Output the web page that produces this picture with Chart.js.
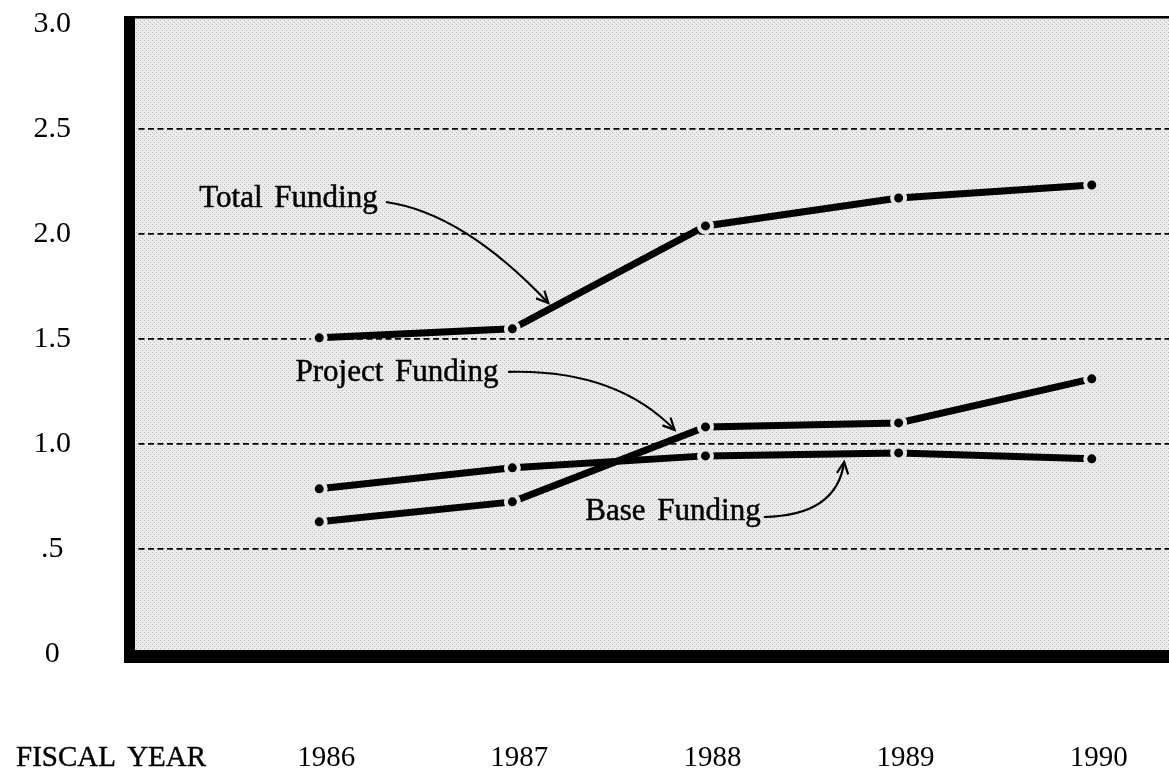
<!DOCTYPE html>
<html>
<head>
<meta charset="utf-8">
<script src="https://cdn.jsdelivr.net/npm/chart.js@4.4.1/dist/chart.umd.min.js"></script>
<style>
  html, body { margin: 0; padding: 0; background: #fff; overflow: hidden; }
  #wrap { width: 1169px; height: 770px; }
  canvas { display: block; }
</style>
</head>
<body>
<div id="wrap"><canvas id="myChart" width="1169" height="770"></canvas></div>
<script>
// data
const years = [1986, 1987, 1988, 1989, 1990];
const totalFunding = [1.505, 1.548, 2.038, 2.171, 2.233];
const projectFunding = [0.629, 0.724, 1.081, 1.10, 1.31];
const baseFunding = [0.786, 0.886, 0.943, 0.957, 0.929];

const yTicks = [0, 0.5, 1, 1.5, 2, 2.5, 3];
const yTickLabels = ['0', '.5', '1.0', '1.5', '2.0', '2.5', '3.0'];
const xTitle = 'FISCAL YEAR';

// series labels + curved arrows, in data units (x = year, y = funding)
const notes = [
  { text: 'Total Funding', x: 1985.379, y: 2.129,
    curve: [[1986.345, 2.152], [1986.745, 2.10], [1987.186, 1.671]] },
  { text: 'Project Funding', x: 1985.877, y: 1.30,
    curve: [[1986.978, 1.343], [1987.534, 1.357], [1987.840, 1.067]] },
  { text: 'Base Funding', x: 1987.378, y: 0.638,
    curve: [[1988.302, 0.652], [1988.68, 0.657], [1988.718, 0.914]] }
];

const SERIF = '"Liberation Serif", "Times New Roman", serif';
const BG = '#e4e4e4';

// stipple fill like the printed screen
const tile = document.createElement('canvas');
tile.width = 4; tile.height = 4;
const tctx = tile.getContext('2d');
tctx.fillStyle = '#ececec';
tctx.fillRect(0, 0, 4, 4);
tctx.fillStyle = '#b8b8b8';
tctx.fillRect(0, 0, 1, 1);
tctx.fillRect(2, 2, 1, 1);

const frame = {
  id: 'frame',
  beforeDraw(chart) {
    const { ctx, chartArea: a } = chart;
    ctx.save();
    ctx.fillStyle = ctx.createPattern(tile, 'repeat');
    ctx.fillRect(a.left, a.top, a.right - a.left, a.bottom - a.top);
    ctx.restore();
  },
  afterDatasetsDraw(chart) {
    const { ctx, chartArea: a, scales } = chart;
    const xs = scales.x, ys = scales.y;
    ctx.save();
    ctx.fillStyle = '#000';
    // thick left and bottom, thin top
    ctx.fillRect(a.left - 5, a.top - 1, 11, a.bottom - a.top + 8);
    ctx.fillRect(a.left - 5, a.bottom - 6, a.right - a.left + 5, 13);
    ctx.fillRect(a.left - 5, a.top - 1, a.right - a.left + 5, 2.5);

    // notes
    ctx.font = '31px ' + SERIF;
    ctx.textBaseline = 'alphabetic';
    ctx.textAlign = 'left';
    if ('wordSpacing' in ctx) ctx.wordSpacing = '4px';
    ctx.strokeStyle = '#000';
    notes.forEach(n => {
      const tx = xs.getPixelForValue(n.x), ty = ys.getPixelForValue(n.y);
      ctx.lineWidth = 0.5;
      ctx.fillText(n.text, tx, ty);
      ctx.strokeText(n.text, tx, ty);
      const p = n.curve.map(c => [xs.getPixelForValue(c[0]), ys.getPixelForValue(c[1])]);
      ctx.lineWidth = 2.2;
      ctx.beginPath();
      ctx.moveTo(p[0][0], p[0][1]);
      ctx.quadraticCurveTo(p[1][0], p[1][1], p[2][0], p[2][1]);
      ctx.stroke();
      const ang = Math.atan2(p[2][1] - p[1][1], p[2][0] - p[1][0]);
      const len = 13;
      ctx.beginPath();
      ctx.moveTo(p[2][0] - len * Math.cos(ang - 0.45), p[2][1] - len * Math.sin(ang - 0.45));
      ctx.lineTo(p[2][0], p[2][1]);
      ctx.lineTo(p[2][0] - len * Math.cos(ang + 0.45), p[2][1] - len * Math.sin(ang + 0.45));
      ctx.stroke();
    });

    // axis caption on the year row
    ctx.font = '29px ' + SERIF;
    ctx.lineWidth = 0.4;
    ctx.fillText(xTitle, 16, 766);
    ctx.strokeText(xTitle, 16, 766);
    ctx.restore();
  }
};

const lineStyle = {
  borderColor: '#000',
  borderWidth: 7,
  borderCapStyle: 'round',
  tension: 0,
  pointRadius: 6.5,
  pointBorderWidth: 4,
  pointBackgroundColor: '#000',
  pointBorderColor: BG,
  fill: false
};

function toPoints(vals) {
  return years.map((yr, i) => ({ x: yr, y: vals[i] }));
}

new Chart(document.getElementById('myChart').getContext('2d'), {
  type: 'line',
  data: {
    datasets: [
      Object.assign({ label: 'Total Funding', data: toPoints(totalFunding) }, lineStyle),
      Object.assign({ label: 'Project Funding', data: toPoints(projectFunding) }, lineStyle),
      Object.assign({ label: 'Base Funding', data: toPoints(baseFunding) }, lineStyle)
    ]
  },
  options: {
    responsive: false,
    animation: false,
    layout: { autoPadding: false, padding: { top: 17, left: 0, right: 0, bottom: 0 } },
    plugins: { legend: { display: false }, tooltip: { enabled: false } },
    scales: {
      x: {
        type: 'linear',
        min: 1985.015,
        max: 1990.4,
        afterBuildTicks: s => { s.ticks = years.map(v => ({ value: v })); },
        afterFit: s => {
          s.height = 114;
          s.paddingLeft = s.paddingRight = s.paddingTop = s.paddingBottom = 0;
        },
        grid: { display: false, drawTicks: false },
        border: { display: false },
        ticks: {
          padding: 85,
          labelOffset: 7,
          color: '#000',
          font: { family: SERIF, size: 29 },
          callback: v => String(v)
        }
      },
      y: {
        min: -0.01,
        max: 3.033,
        afterBuildTicks: s => { s.ticks = yTicks.map(v => ({ value: v })); },
        afterFit: s => {
          s.width = 129;
          s.paddingLeft = s.paddingRight = s.paddingTop = s.paddingBottom = 0;
        },
        border: { display: false, dash: [6, 3.5] },
        grid: {
          drawTicks: false,
          color: c => (c.tick && (c.tick.value === 0 || c.tick.value === 3)) ? 'rgba(0,0,0,0)' : '#000',
          lineWidth: 1.8
        },
        ticks: {
          padding: 58,
          crossAlign: 'center',
          color: '#000',
          font: { family: SERIF, size: 30 },
          callback: (v) => {
            const i = yTicks.indexOf(v);
            return i >= 0 ? yTickLabels[i] : '';
          }
        }
      }
    }
  },
  plugins: [frame]
});
</script>
</body>
</html>
